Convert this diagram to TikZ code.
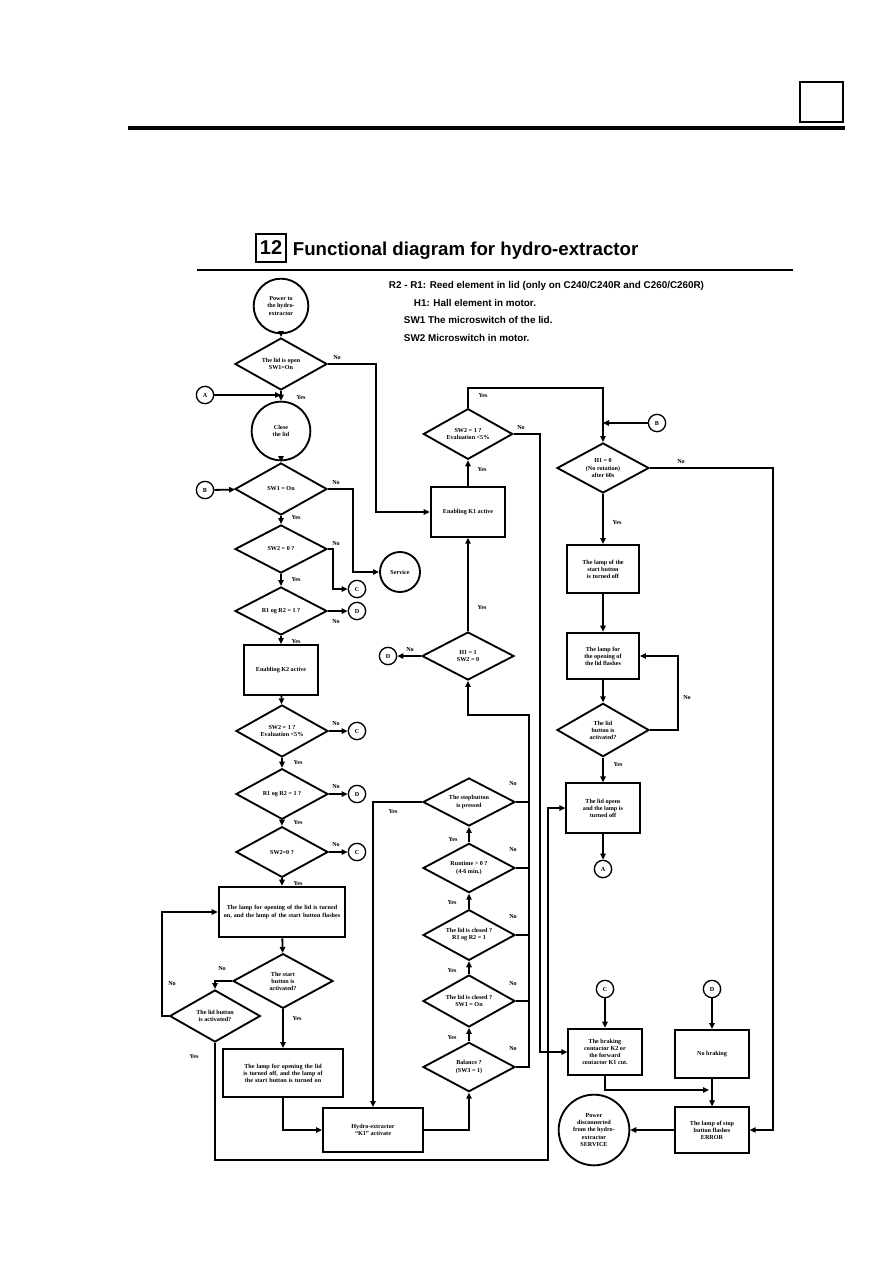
\documentclass[tikz,border=0pt]{standalone}
\usepackage{fontspec}
\setmainfont{Liberation Serif}
\newfontfamily\headfont{Liberation Sans}
\usepackage{tikz}
\usetikzlibrary{
        arrows.meta,
        positioning,
        shapes.geometric
    }
\newcommand{\boxfont}{\fontsize{4.6}{5.3}\selectfont\bfseries}
\newcommand{\legendfont}{\headfont\fontsize{7.4}{8}\selectfont\bfseries}
\tikzset{
    decision/.style={diamond,draw,aspect=1.8,inner sep=0pt,minimum width=69pt,minimum height=39pt,font=\boxfont,align=center},
    process/.style={rectangle,draw,inner sep=1pt,font=\boxfont,align=center},
    terminal/.style={circle,draw,inner sep=0pt,font=\boxfont,align=center},
    connector/.style={circle,draw,line width=1pt,inner sep=0pt,minimum size=13pt,font=\boxfont},
    answer/.style={font=\boxfont,inner sep=0pt}
}

\begin{document}
\begin{tikzpicture}[x=0.75pt,y=-0.75pt,line width=1.4pt,>={Triangle[length=4.5pt,width=4pt]}]
    \useasboundingbox (0,0) rectangle (893,1263);
    % page head
    \draw[line width=2.4pt] (128,128) -- (845,128);
    \draw[line width=0.8pt] (800,82) rectangle (843,122);
    % title and legend
    \node[draw,line width=1.4pt,inner sep=0pt,minimum width=23pt,minimum height=21pt,font=\headfont\fontsize{15}{16}\selectfont\bfseries] (num) at (271,248) {12};
    \node[anchor=west,inner sep=0pt,font=\headfont\fontsize{14}{16}\selectfont\bfseries] (title) at (292,251) {Functional diagram for hydro-extractor};
    \draw[line width=1.2pt] (197,270) -- (793,270);
    \node[anchor=west,inner sep=0pt,font=\legendfont] (leg1) at (388,286) {R2 - R1: Reed element in lid (only on C240/C240R and C260/C260R)};
    \node[anchor=west,inner sep=0pt,font=\legendfont] (leg2) at (413,303) {H1: Hall element in motor.};
    \node[anchor=west,inner sep=0pt,font=\legendfont] (leg3) at (403,320) {SW1 The microswitch of the lid.};
    \node[anchor=west,inner sep=0pt,font=\legendfont] (leg4) at (403,338) {SW2 Microswitch in motor.};

    % left column
    \node[terminal,minimum size=41pt] (start) at (281,306) {Power to\\the hydro-\\extractor};
    \node[decision] (d1) at (281,364) {The lid is open\\SW1=On};
    \node[connector] (cA) at (205,395) {A};
    \node[terminal,minimum size=44pt] (close) at (281,431) {Close\\the lid};
    \node[decision] (d2) at (281,489) {SW1 = On};
    \node[connector] (cB) at (205,490) {B};
    \node[terminal,minimum size=30pt] (service) at (400,572) {Service};
    \node[decision,minimum height=36pt] (d3) at (281,549) {SW2 = 0 ?};
    \node[connector] (cC1) at (357,589) {C};
    \node[decision,minimum height=36pt] (d4) at (281,611) {R1 og R2 = 1 ?};
    \node[connector] (cD1) at (357,611) {D};
    \node[process,minimum width=55pt,minimum height=37.5pt] (en2) at (281,670) {Enabling K2 active};
    \node[decision] (d5) at (282,731) {SW2 = 1 ?\\Evaluation {<}5\%};
    \node[connector] (cC2) at (357,731) {C};
    \node[decision,minimum height=38pt] (d6) at (282,794) {R1 og R2 = 1 ?};
    \node[connector] (cD2) at (357,794) {D};
    \node[decision,minimum height=38pt] (d7) at (282,852) {SW2=0 ?};
    \node[connector] (cC3) at (357,852) {C};
    \node[process,minimum width=95pt,minimum height=38pt,text width=88pt] (lampon) at (282,912) {The lamp for opening of the lid is turned on, and the lamp of the start button flashes};
    \node[decision,minimum width=75pt,minimum height=41pt] (d8) at (283,981) {The start\\button is\\activated?};
    \node[decision,minimum width=68pt] (d9) at (215,1016) {The lid button\\is activated?};
    \node[process,minimum width=90pt,minimum height=36pt,text width=84pt] (lampoff) at (283,1073) {The lamp for opening the lid is turned off, and the lamp of the start button is turned on};
    \node[process,minimum width=75pt,minimum height=33pt] (hydro) at (373,1130) {Hydro-extractor\\``K1'' activate};

    % middle column
    \node[decision,minimum height=37pt] (d10) at (469,1067) {Balance ?\\(SW3 = 1)};
    \node[decision] (d11) at (469,1001) {The lid is closed ?\\SW1 = On};
    \node[decision,minimum height=38pt] (d12) at (469,935) {The lid is closed ?\\R1 og R2 = 1};
    \node[decision,minimum height=37pt] (d13) at (469,868) {Runtime > 0 ?\\(4-6 min.)};
    \node[decision,minimum height=36pt] (d14) at (469,802) {The stopbutton\\is pressed};
    \node[decision,minimum height=36pt] (dh) at (468,656) {H1 = 1\\SW2 = 0};
    \node[connector] (cD3) at (388,656) {D};
    \node[process,minimum width=56pt,minimum height=37pt] (en1) at (468,512) {Enabling K1 active};
    \node[decision,minimum width=67pt,minimum height=38pt] (dsw) at (468,434) {SW2 = 1 ?\\Evaluation {<}5\%};
    \coordinate (nocol) at (529,715);

    % right column
    \node[connector] (cB2) at (657,423) {B};
    \node[decision,minimum height=37.5pt] (d15) at (603,468) {H1 = 0\\(No rotation)\\after 60s};
    \node[process,minimum width=54pt,minimum height=36pt] (startoff) at (603,569) {The lamp of the\\start button\\is turned off};
    \node[process,minimum width=54pt,minimum height=35pt] (lidlamp) at (603,656) {The lamp for\\the opening of\\the lid flashes};
    \node[decision,minimum height=40pt] (d16) at (603,730) {The lid\\button is\\activated?};
    \node[process,minimum width=55pt,minimum height=37pt] (lidopen) at (603,808) {The lid opens\\and the lamp is\\turned off};
    \node[connector] (cA2) at (603,869) {A};
    \node[connector] (cC4) at (605,989) {C};
    \node[connector] (cD4) at (712,989) {D};
    \node[process,minimum width=55pt,minimum height=35pt] (cut) at (605,1052) {The braking\\contactor K2 or\\the forward\\contactor K1 cut.};
    \node[process,minimum width=56pt,minimum height=36pt] (nobrake) at (712,1054) {No braking};
    \node[process,minimum width=55pt,minimum height=34pt] (error) at (712,1130) {The lamp of stop\\button flashes\\ERROR};
    \node[terminal,minimum size=53pt] (powoff) at (594,1130) {Power\\disconnected\\from the hydro-\\extractor\\SERVICE};

    % left column connections
    \draw[->] (start) -- (d1);
    \draw[->] (d1) -- (close);
    \draw[->] (cA) -- (cA -| d1);
    \draw[->] (close) -- (d2);
    \draw[->] (cB) -- (d2);
    \draw[->] (d2.east) -- ++(25,0) |- (service);
    \draw[->] (d2) -- (d3);
    \draw[->] (d3.east) -- ++(5,0) |- (cC1);
    \draw[->] (d3) -- (d4);
    \draw[->] (d4) -- (cD1);
    \draw[->] (d4) -- (en2);
    \draw[->] (en2) -- (d5);
    \draw[->] (d5) -- (cC2);
    \draw[->] (d5) -- (d6);
    \draw[->] (d6) -- (cD2);
    \draw[->] (d6) -- (d7);
    \draw[->] (d7) -- (cC3);
    \draw[->] (d7) -- (lampon);
    \draw[->] (lampon) -- (d8);
    \draw[->] (d8.west) -| (d9.north);
    \draw[->] (d9.west) -- ++(-7,0) |- (lampon.west);
    \draw[->] (d9.south) |- (548,1160) |- (lidopen.west);
    \draw[->] (d8) -- (lampoff);
    \draw[->] (lampoff.south) |- (hydro.west);
    \node[answer] at (337,358) {No};
    \node[answer] at (301,398) {Yes};
    \node[answer] at (336,483) {No};
    \node[answer] at (296,518) {Yes};
    \node[answer] at (336,544) {No};
    \node[answer] at (296,580) {Yes};
    \node[answer] at (336,622) {No};
    \node[answer] at (296,642) {Yes};
    \node[answer] at (336,724) {No};
    \node[answer] at (298,763) {Yes};
    \node[answer] at (336,787) {No};
    \node[answer] at (298,823) {Yes};
    \node[answer] at (336,845) {No};
    \node[answer] at (298,884) {Yes};
    \node[answer] at (222,969) {No};
    \node[answer] at (172,984) {No};
    \node[answer] at (297,1019) {Yes};
    \node[answer] at (194,1057) {Yes};

    % middle column connections
    \draw[->] (hydro.east) -| (d10.south);
    \draw[->] (d10) -- (d11);
    \draw[->] (d11) -- (d12);
    \draw[->] (d12) -- (d13);
    \draw[->] (d13) -- (d14);
    \draw[->] (d14.west) -| (hydro.north);
    \draw (d14.east) -- (d14.east -| nocol);
    \draw (d13.east) -- (d13.east -| nocol);
    \draw (d12.east) -- (d12.east -| nocol);
    \draw (d11.east) -- (d11.east -| nocol);
    \draw[->] (d10.east) -| (nocol) -| (dh.south);
    \draw[->] (dh) -- (cD3);
    \draw[->] (dh) -- (en1);
    \draw[->] (en1) -- (dsw);
    \draw[->] (dsw.north) -- (468,388) -| (d15.north);
    \draw[->] (dsw.east) -| (540,1052) -- (cut.west);
    \draw[->] (d1.east) -| (376,512) -- (en1.west);
    \node[answer] at (452,1038) {Yes};
    \node[answer] at (452,971) {Yes};
    \node[answer] at (452,903) {Yes};
    \node[answer] at (453,840) {Yes};
    \node[answer] at (393,812) {Yes};
    \node[answer] at (513,1049) {No};
    \node[answer] at (513,984) {No};
    \node[answer] at (513,917) {No};
    \node[answer] at (513,850) {No};
    \node[answer] at (513,784) {No};
    \node[answer] at (410,650) {No};
    \node[answer] at (482,608) {Yes};
    \node[answer] at (482,470) {Yes};
    \node[answer] at (483,396) {Yes};
    \node[answer] at (521,428) {No};

    % right column connections
    \draw[->] (cB2) -- (cB2 -| d15);
    \draw[->] (d15.east) -| (773,1130) -- (error.east);
    \draw[->] (d15) -- (startoff);
    \draw[->] (startoff) -- (lidlamp);
    \draw[->] (lidlamp) -- (d16);
    \draw[->] (d16.east) -- ++(28,0) |- (lidlamp.east);
    \draw[->] (d16) -- (lidopen);
    \draw[->] (lidopen) -- (cA2);
    \draw[->] (cC4) -- (cut);
    \draw[->] (cD4) -- (nobrake);
    \draw[->] (nobrake) -- (error);
    \draw[->] (cut.south) |- (709,1090);
    \draw[->] (error) -- (powoff);
    \node[answer] at (681,462) {No};
    \node[answer] at (617,523) {Yes};
    \node[answer] at (687,698) {No};
    \node[answer] at (618,765) {Yes};
\end{tikzpicture}
\end{document}
